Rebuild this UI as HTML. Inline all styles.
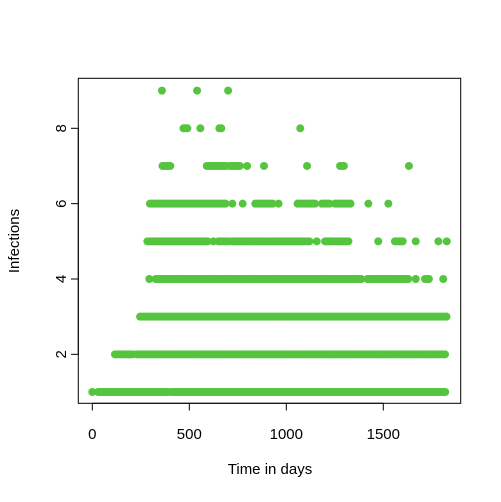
<!DOCTYPE html>
<html><head><meta charset="utf-8"><style>body{margin:0;background:#fff}svg{display:block;font-family:"Liberation Sans",sans-serif}</style></head>
<body>
<svg id="chart" width="501" height="502">
<rect x="78.3" y="78.3" width="382.4" height="325" fill="none" stroke="#000" stroke-width="1"/>
<g id="pts"></g>
<g id="axes"></g>
<text x="270" y="474" text-anchor="middle" font-size="15">Time in days</text>
<text transform="translate(19,241) rotate(-90)" text-anchor="middle" font-size="15">Infections</text>
</svg>
<script>
const levels = [1,2,3,4,5,6,7,8,9];
const runs1 = [[0,0],[31,392],[409,1827]];
const runs2 = [[117,208],[228,1818]];
const runs3 = [[246,1830]];
const runs4 = [[294,294],[327,1389],[1418,1629],[1667,1667],[1715,1744],[1809,1809]];
const runs5 = [[284,598],[624,624],[650,702],[719,1123],[1157,1157],[1200,1328],[1474,1474],[1560,1603],[1667,1667],[1784,1784],[1827,1827]];
const runs6 = [[297,692],[722,722],[775,775],[840,934],[960,960],[1058,1149],[1183,1226],[1251,1337],[1423,1423],[1526,1526]];
const runs7 = [[362,410],[590,690],[710,765],[798,798],[885,885],[1107,1107],[1277,1298],[1632,1632]];
const runs8 = [[470,490],[557,557],[655,670],[1072,1072]];
const runs9 = [[359,359],[540,540],[700,700]];
const xTicks = [0,500,1000,1500];
const yTicks = [2,4,6,8];
const allRuns = [runs1,runs2,runs3,runs4,runs5,runs6,runs7,runs8,runs9];
const NS="http://www.w3.org/2000/svg";
function xs(d){return 92.3+d*0.194;}
function ys(v){return 392-(v-1)*37.67;}
const pts=document.getElementById('pts');
allRuns.forEach((runs,i)=>{
  const lv=levels[i];
  runs.forEach(r=>{
    for(let d=r[0]; d<=r[1]+0.01; d+=Math.max(1,Math.min(10,r[1]-r[0]))){
      const c=document.createElementNS(NS,'circle');
      c.setAttribute('cx',xs(d));c.setAttribute('cy',ys(lv));c.setAttribute('r',4);
      c.setAttribute('fill','#55c43f');
      
      
      pts.appendChild(c);
      if(r[1]===r[0])break;
    }
  });
});
const ax=document.getElementById('axes');
function add(tag,attrs,txt){const e=document.createElementNS(NS,tag);for(const k in attrs)e.setAttribute(k,attrs[k]);if(txt!==undefined)e.textContent=txt;ax.appendChild(e);return e;}
add('line',{x1:xs(xTicks[0]),x2:xs(xTicks[xTicks.length-1]),y1:403.3,y2:403.3,stroke:'#000'});
xTicks.forEach(t=>{
  add('line',{x1:xs(t),x2:xs(t),y1:403.3,y2:410.5,stroke:'#000'});
  const e=add('text',{x:xs(t),y:439,'text-anchor':'middle','font-size':15},String(t));
  
  
});
add('line',{x1:78.3,x2:78.3,y1:ys(yTicks[0]),y2:ys(yTicks[yTicks.length-1]),stroke:'#000'});
yTicks.forEach(t=>{
  add('line',{x1:71,x2:78.3,y1:ys(t),y2:ys(t),stroke:'#000'});
  const e=add('text',{transform:`translate(66,${ys(t)}) rotate(-90)`,'text-anchor':'middle','font-size':15},String(t));
  
  
});
</script>
</body></html>
